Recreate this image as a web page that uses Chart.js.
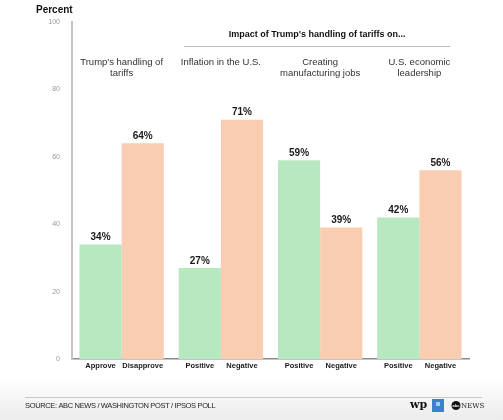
<!DOCTYPE html>
<html>
<head>
<meta charset="utf-8">
<script src="https://cdn.jsdelivr.net/npm/chart.js@4"></script>
<style>
  html, body { margin: 0; padding: 0; background: #fff; }
  #wrap { width: 503px; height: 420px; }
</style>
</head>
<body>
<div id="wrap"><canvas id="chart" width="503" height="420"></canvas></div>
<script>
// chart data
const groupTitles = [
    ["Trump's handling of", "tariffs"],
    ["Inflation in the U.S."],
    ["Creating", "manufacturing jobs"],
    ["U.S. economic", "leadership"]
];
const goodLabels = ['Approve', 'Positive', 'Positive', 'Positive'];
const badLabels = ['Disapprove', 'Negative', 'Negative', 'Negative'];
const goodValues = [34, 27, 59, 42];
const badValues = [64, 71, 39, 56];
const yTicks = [0, 20, 40, 60, 80, 100];

const FONT = '"Liberation Sans", Arial, sans-serif';

// draws titles, value labels, bar labels and footer
const decor = {
    id: 'decor',
    beforeDraw(chart) {
        const ctx = chart.ctx;
        const W = chart.width, H = chart.height;
        ctx.save();
        const g = ctx.createLinearGradient(0, 378, 0, H);
        g.addColorStop(0, 'rgba(236,236,236,0)');
        g.addColorStop(1, '#ececec');
        ctx.fillStyle = g;
        ctx.fillRect(0, 378, W, H - 378);
        ctx.restore();
    },
    afterDatasetsDraw(chart) {
        const ctx = chart.ctx;
        const x = chart.scales.x;
        ctx.save();

        // y axis title
        ctx.fillStyle = '#111';
        ctx.font = 'bold 10px ' + FONT;
        ctx.textAlign = 'left';
        ctx.textBaseline = 'middle';
        ctx.fillText('Percent', 36, 10);

        // header over the three "impact" groups
        const hl = x.getPixelForValue(1) - 37;
        const hr = x.getPixelForValue(3) + 31;
        ctx.font = 'bold 9px ' + FONT;
        ctx.textAlign = 'center';
        ctx.fillText("Impact of Trump's handling of tariffs on...", (hl + hr) / 2, 35);
        ctx.strokeStyle = '#bbb';
        ctx.lineWidth = 1;
        ctx.beginPath();
        ctx.moveTo(hl, 46.5);
        ctx.lineTo(hr, 46.5);
        ctx.stroke();

        // group sub titles
        ctx.font = '9.5px ' + FONT;
        ctx.fillStyle = '#333';
        groupTitles.forEach((lines, i) => {
            const cx = x.getPixelForValue(i);
            lines.forEach((t, j) => ctx.fillText(t, cx, 62 + j * 11));
        });

        // value labels and bar labels
        const names = [goodLabels, badLabels];
        chart.data.datasets.forEach((ds, di) => {
            chart.getDatasetMeta(di).data.forEach((bar, i) => {
                ctx.fillStyle = '#1a1a1a';
                ctx.font = 'bold 10px ' + FONT;
                ctx.textBaseline = 'middle';
                ctx.fillText(ds.data[i] + '%', bar.x, bar.y - 7);
                ctx.font = 'bold 7.5px ' + FONT;
                ctx.fillText(names[di][i], bar.x, chart.chartArea.bottom + 7);
            });
        });

        // footer
        ctx.strokeStyle = '#c8c8c8';
        ctx.beginPath();
        ctx.moveTo(25, 397.5);
        ctx.lineTo(482, 397.5);
        ctx.stroke();
        ctx.fillStyle = '#222';
        ctx.font = '7.5px ' + FONT;
        ctx.textAlign = 'left';
        ctx.letterSpacing = '-0.35px';
        ctx.fillText('SOURCE: ABC NEWS / WASHINGTON POST / IPSOS POLL', 25, 406);
        ctx.letterSpacing = '0px';

        // logos (rough)
        ctx.font = 'bold 11px "DejaVu Serif", serif';
        ctx.fillStyle = '#111';
        ctx.fillText('wp', 410, 405);
        ctx.fillStyle = '#3f7fcf';
        ctx.fillRect(432, 399, 12, 13);
        ctx.fillStyle = '#9fd3e8';
        ctx.fillRect(436, 402, 4, 4);
        ctx.fillStyle = '#111';
        ctx.beginPath();
        ctx.arc(456, 405.5, 4.5, 0, Math.PI * 2);
        ctx.fill();
        ctx.fillStyle = '#fff';
        ctx.font = 'bold 4px ' + FONT;
        ctx.textAlign = 'center';
        ctx.fillText('abc', 456, 405.5);
        ctx.fillStyle = '#222';
        ctx.font = '7px "DejaVu Serif", serif';
        ctx.textAlign = 'left';
        ctx.fillText('NEWS', 461, 406);

        ctx.restore();
    }
};

const chartCtx = document.getElementById('chart').getContext('2d');
const chart = new Chart(chartCtx, {
    type: 'bar',
    data: {
        labels: groupTitles.map(t => t.join(' ')),
        datasets: [{
            label: 'Approve / Positive',
            data: goodValues,
            backgroundColor: '#b7e8c0'
        }, {
            label: 'Disapprove / Negative',
            data: badValues,
            backgroundColor: '#f8cdb1'
        }]
    },
    options: {
        responsive: false,
        animation: false,
        layout: { padding: { left: 40, right: 34, top: 22, bottom: 61 } },
        categoryPercentage: 0.85,
        barPercentage: 1.0,
        plugins: {
            legend: { display: false },
            tooltip: { enabled: false }
        },
        scales: {
            x: {
                grid: { display: false },
                border: { color: '#8a8a8a', width: 1.5 },
                ticks: { display: false },
                afterFit(scale) { scale.height = 0; }
            },
            y: {
                min: 0,
                max: 100,
                grid: { display: false },
                border: { color: '#c4c4c4', width: 2 },
                afterBuildTicks(scale) { scale.ticks = yTicks.map(v => ({ value: v })); },
                ticks: {
                    color: '#999',
                    font: { size: 7, family: FONT },
                    padding: 4
                },
                afterFit(scale) { scale.width = 32; }
            }
        }
    },
    plugins: [decor]
});
</script>
</body>
</html>
